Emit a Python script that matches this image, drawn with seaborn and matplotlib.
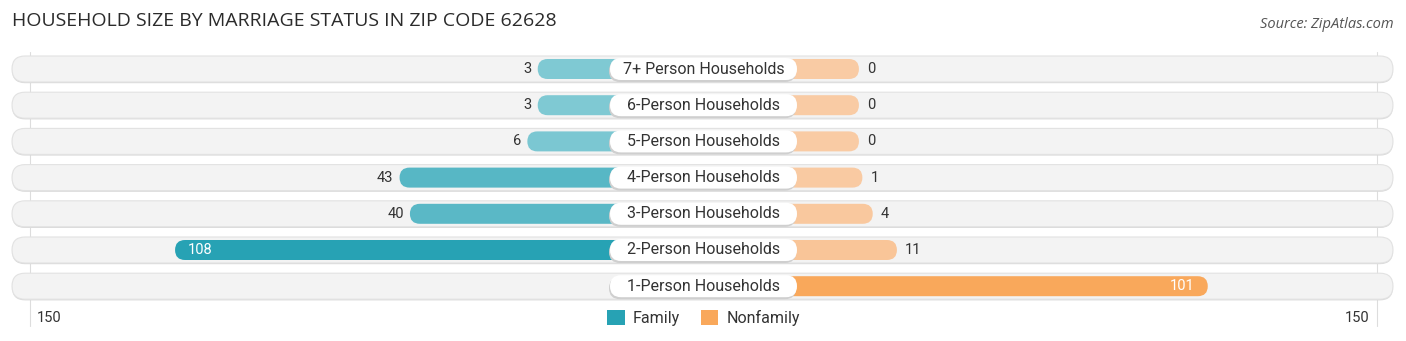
import numpy as np
import pandas as pd
import matplotlib
matplotlib.use("Agg")
import matplotlib.pyplot as plt
import matplotlib.colors as mcolors
from matplotlib.patches import FancyBboxPatch, Patch
import seaborn as sns

# ---------------- data ----------------
categories = ["7+ Person Households", "6-Person Households", "5-Person Households",
              "4-Person Households", "3-Person Households", "2-Person Households",
              "1-Person Households"]
family = [3, 3, 6, 43, 40, 108, np.nan]
nonfamily = [0, 0, 0, 1, 4, 11, 101]
axis_max = 150
tick_labels = ["150", "150"]
title = "HOUSEHOLD SIZE BY MARRIAGE STATUS IN ZIP CODE 62628"
source = "Source: ZipAtlas.com"
legend_labels = ["Family", "Nonfamily"]

# ---------------- style ----------------
sns.set_style("white")
plt.rcParams["font.family"] = ["Roboto", "DejaVu Sans"]

W, H = 1406, 341
fig = plt.figure(figsize=(W / 100, H / 100), dpi=100)
ax = fig.add_axes([0, 0, 1, 1])

OFF = 45                      # room for the centre label box (data units)
cx = 703.5                    # centre pixel
s = (1377 - cx) / (axis_max + OFF)   # px per unit
row0, pitch = 69, 36.2
bar_px, bg_px, box_px = 20, 26, 22

fam_dark, fam_light = "#27a2b4", "#84cbd5"
non_dark, non_light = "#f9a85b", "#f9cba4"


def blend(c1, c2, t):
    a, b = np.array(mcolors.to_rgb(c1)), np.array(mcolors.to_rgb(c2))
    return tuple(a + (b - a) * t)


fmax = np.nanmax(family)
nmax = max(nonfamily)
fam_cols = [blend(fam_light, fam_dark, 0 if np.isnan(v) else (v / fmax) ** 0.8) for v in family]
non_cols = [blend(non_light, non_dark, (v / nmax) ** 0.8) for v in nonfamily]

df = pd.DataFrame({"cat": categories,
                   "fam": [-(OFF + v) if not np.isnan(v) else np.nan for v in family],
                   "non": [OFF + v for v in nonfamily]})

# background pills
x_left, x_right = (12 - cx) / s, (1393 - cx) / s
for i in range(len(categories)):
    hb = bg_px / pitch
    sh = FancyBboxPatch((x_left, i - hb / 2 + 1.2 / pitch), x_right - x_left, hb,
                        boxstyle=f"round,pad=0,rounding_size={bg_px/2/s}",
                        mutation_aspect=s / pitch, fc="#d9d9d9", ec="none", zorder=0.5)
    ax.add_patch(sh)
    bg = FancyBboxPatch((x_left, i - hb / 2), x_right - x_left, hb,
                        boxstyle=f"round,pad=0,rounding_size={bg_px/2/s}",
                        mutation_aspect=s / pitch, fc="#f3f3f3", ec="#e2e2e2", lw=0.8, zorder=1)
    ax.add_patch(bg)

width = bar_px / pitch
sns.barplot(data=df, x="fam", y="cat", hue="cat", palette=fam_cols, order=categories,
            hue_order=categories, legend=False, orient="h", width=width, saturation=1,
            ax=ax, zorder=2)
sns.barplot(data=df, x="non", y="cat", hue="cat", palette=non_cols, order=categories,
            hue_order=categories, legend=False, orient="h", width=width, saturation=1,
            ax=ax, zorder=2)

# turn rectangles into rounded bars
rects = list(ax.patches)
for p in rects:
    if not isinstance(p, matplotlib.patches.Rectangle):
        continue
    x, y, w, h = p.get_x(), p.get_y(), p.get_width(), p.get_height()
    if np.isnan(w) or w == 0:
        p.remove()
        continue
    x0, ww = min(x, x + w), abs(w)
    fc = p.get_facecolor()
    p.remove()
    ax.add_patch(FancyBboxPatch((x0, y), ww, h,
                                boxstyle=f"round,pad=0,rounding_size={bar_px/2/s}",
                                mutation_aspect=s / pitch, fc=fc, ec="none", zorder=2))

# centre label boxes and values
bw = 187 / s
for i, cat in enumerate(categories):
    hb = box_px / pitch
    ax.add_patch(FancyBboxPatch((-bw / 2 - 1.0 / s, i - hb / 2 + 2.0 / pitch), bw, hb,
                                boxstyle=f"round,pad=0,rounding_size={box_px/2/s}",
                                mutation_aspect=s / pitch, fc="#cfcfcf", ec="none", zorder=3))
    ax.add_patch(FancyBboxPatch((-bw / 2, i - hb / 2), bw, hb,
                                boxstyle=f"round,pad=0,rounding_size={box_px/2/s}",
                                mutation_aspect=s / pitch, fc="white", ec="none", zorder=4))
    ax.text(0, i, cat, ha="center", va="center", fontsize=11.5, color="#333333", zorder=5)

    fv = family[i]
    if not np.isnan(fv):
        end = -(OFF + fv)
        if fv > 80:
            ax.text(end + 13 / s, i, f"{fv:.0f}", ha="left", va="center", fontsize=10.5,
                    color="white", zorder=5)
        else:
            ax.text(end - 6 / s, i, f"{fv:.0f}", ha="right", va="center", fontsize=10.5,
                    color="#333333", zorder=5)
    nv = nonfamily[i]
    end = OFF + nv
    if nv > 80:
        ax.text(end - 13 / s, i, f"{nv}", ha="right", va="center", fontsize=10.5,
                color="white", zorder=5)
    else:
        ax.text(end + 8 / s, i, f"{nv}", ha="left", va="center", fontsize=10.5,
                color="#333333", zorder=5)

# limits
ax.set_xlim(-cx / s, (W - cx) / s)
ax.set_ylim((H - row0) / pitch, -row0 / pitch)
ax.axis("off")

# axis markers at +/-150
ylo = (326 - row0) / pitch
yhi = (52 - row0) / pitch
for sign in (-1, 1):
    ax.plot([sign * (axis_max + OFF)] * 2, [yhi, ylo], color="#dddddd", lw=0.8, zorder=0.2)
ty = (318 - row0) / pitch
ax.text(-(axis_max + OFF) + 7 / s, ty, tick_labels[0], ha="left", va="center",
        fontsize=10.5, color="#333333")
ax.text((axis_max + OFF) - 8 / s, ty, tick_labels[1], ha="right", va="center",
        fontsize=10.5, color="#333333")

# legend
handles = [Patch(fc=fam_dark, ec="none"), Patch(fc=non_dark, ec="none")]
ax.legend(handles, legend_labels, loc="center", bbox_to_anchor=(cx / W, 1 - 318 / H),
          ncol=2, frameon=False, fontsize=11.5, handlelength=1.1, handleheight=1.1,
          handletextpad=0.5, columnspacing=1.3, labelcolor="#333333")

# title and source
fig.text(12 / W, 1 - 21 / H, title, ha="left", va="center", fontsize=14,
         color="#2b2b2b", family=["Open Sans", "DejaVu Sans"])
fig.text(1394 / W, 1 - 24 / H, source, ha="right", va="center", fontsize=10.5,
         color="#555555", style="italic", family=["Open Sans", "DejaVu Sans"])

fig.savefig("out.png", dpi=100)
